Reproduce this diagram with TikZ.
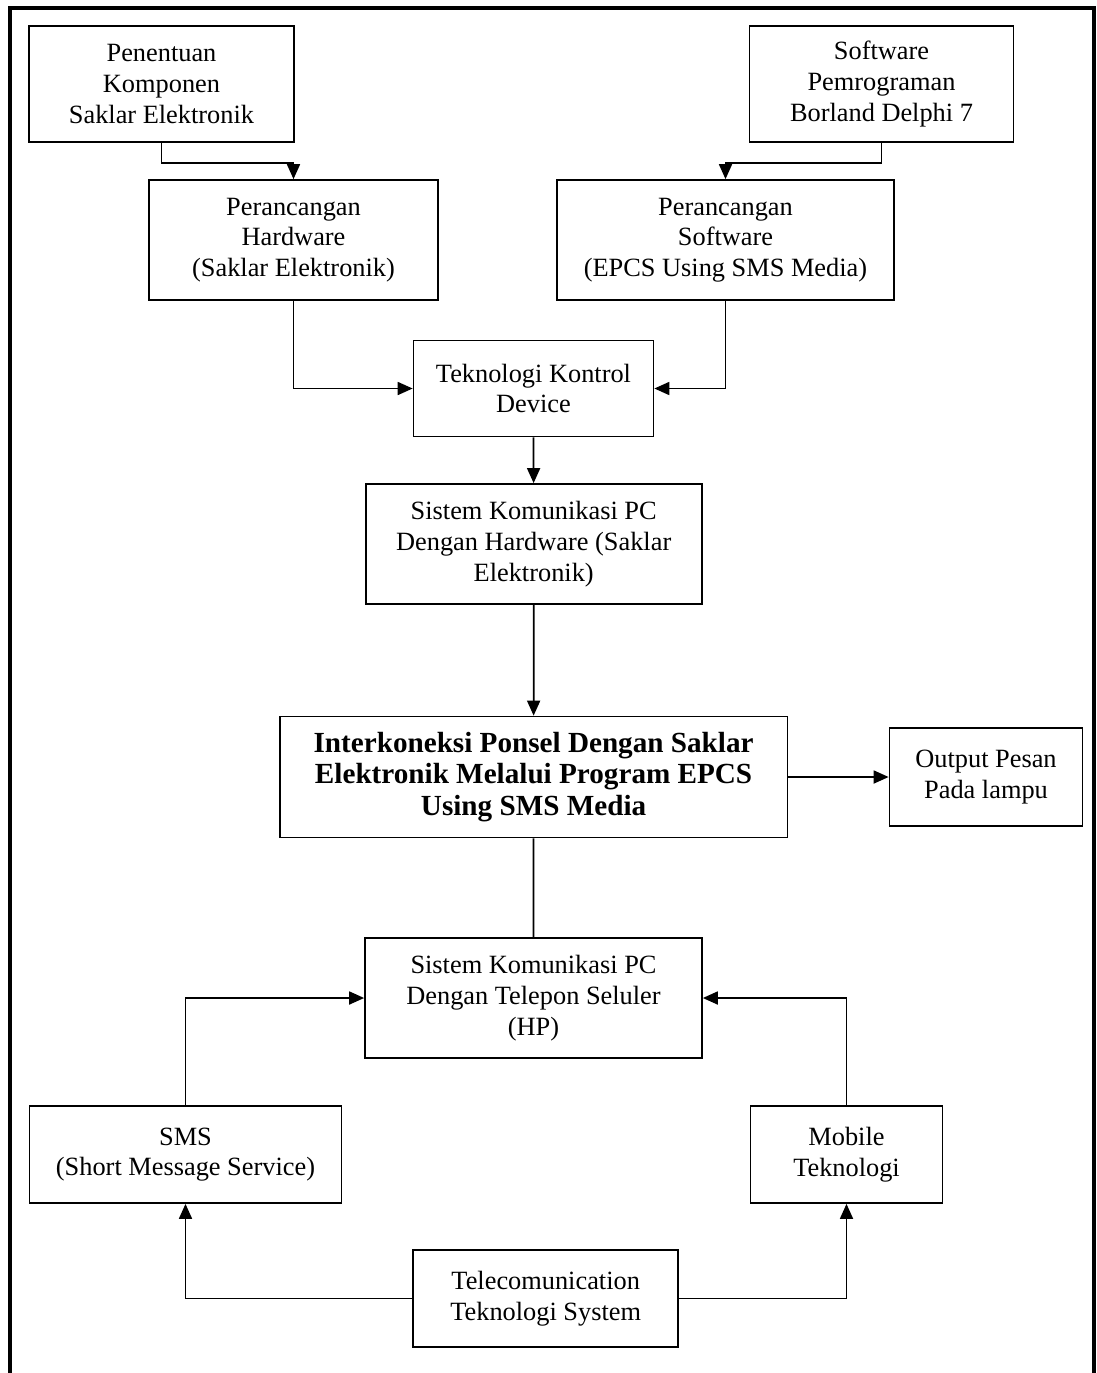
\documentclass[tikz,border=0pt]{standalone}
\usepackage{fontspec}
\setmainfont{Liberation Serif}
\usepackage{tikz}
\usetikzlibrary{arrows.meta}
\tikzstyle{box} = [rectangle, draw, line width=1pt, text centered, align=center, inner sep=2pt, font=\fontsize{15pt}{17.5pt}\selectfont]
\tikzstyle{mainbox} = [box, font=\fontsize{16.6pt}{18pt}\selectfont\bfseries]
\tikzstyle{arrow} = [line width=1pt, -{Triangle[length=3mm, width=2.6mm]}]
\tikzstyle{link} = [line width=1pt]
\tikzstyle{frame} = [line width=0.08cm, line join=miter]

\begin{document}
\begin{tikzpicture}[x=0.02cm, y=-0.02cm]
    \useasboundingbox (0,0) rectangle (1097,1373);
    \draw [frame] (10,1390) -- (10,8) -- (1094,8) -- (1094,1390);

    \node [box, minimum width=5.3cm, minimum height=2.32cm] at (161.5,84) (comp) {Penentuan\\Komponen\\Saklar Elektronik};
    \node [box, minimum width=5.28cm, minimum height=2.32cm] at (881.5,84) (sw) {Software\\Pemrograman\\Borland Delphi 7};
    \node [box, minimum width=5.78cm, minimum height=2.4cm] at (293.5,240) (hw) {Perancangan\\Hardware\\(Saklar Elektronik)};
    \node [box, minimum width=6.74cm, minimum height=2.4cm] at (725.5,240) (swd) {Perancangan\\Software\\(EPCS Using SMS Media)};
    \node [box, minimum width=4.8cm, minimum height=1.92cm] at (533.5,388.5) (tk) {Teknologi Kontrol\\Device};
    \node [box, minimum width=6.72cm, minimum height=2.4cm] at (533.7,544) (sk1) {Sistem Komunikasi PC\\Dengan Hardware (Saklar\\Elektronik)};
    \node [mainbox, minimum width=10.16cm, minimum height=2.42cm] at (533.6,777) (inter) {Interkoneksi Ponsel Dengan Saklar\\Elektronik Melalui Program EPCS\\Using SMS Media};
    \node [box, minimum width=3.86cm, minimum height=1.96cm] at (986,777) (out) {Output Pesan\\Pada lampu};
    \node [box, minimum width=6.74cm, minimum height=2.4cm] at (533.5,998) (sk2) {Sistem Komunikasi PC\\Dengan Telepon Seluler\\(HP)};
    \node [box, minimum width=6.24cm, minimum height=1.94cm] at (185.5,1154.5) (sms) {SMS\\(Short Message Service)};
    \node [box, minimum width=3.84cm, minimum height=1.94cm] at (846.5,1154.5) (mob) {Mobile\\Teknologi};
    \node [box, minimum width=5.3cm, minimum height=1.94cm] at (545.7,1298.5) (tel) {Telecomunication\\Teknologi System};

    \draw [arrow] (comp.south) -- ++(0,20) -| (hw.north);
    \draw [arrow] (sw.south) -- ++(0,20) -| (swd.north);
    \draw [arrow] (hw.south) |- (tk.west);
    \draw [arrow] (swd.south) |- (tk.east);
    \draw [arrow] (tk) -- (sk1);
    \draw [arrow] (sk1) -- (inter);
    \draw [arrow] (inter) -- (out);
    \draw [link] (inter) -- (sk2);
    \draw [arrow] (sms.north) |- (sk2.west);
    \draw [arrow] (mob.north) |- (sk2.east);
    \draw [arrow] (tel.west) -| (sms.south);
    \draw [arrow] (tel.east) -| (mob.south);
\end{tikzpicture}
\end{document}
